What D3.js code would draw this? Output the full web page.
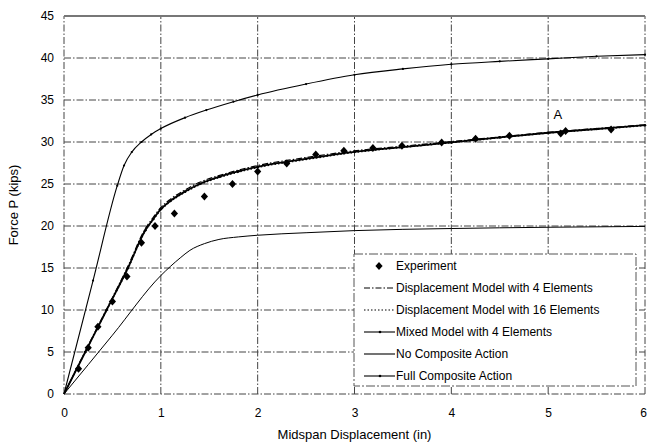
<!DOCTYPE html>
<html><head><meta charset="utf-8">
<script src="https://cdn.jsdelivr.net/npm/d3@7"></script>
<style>body{margin:0;background:#fff}svg{display:block;font-family:"Liberation Sans",Arial,sans-serif}</style>
</head><body><svg id="c" width="647" height="443"></svg>
<script>
// ---- data ----
const xTicks = [0,1,2,3,4,5,6];
const yTicks = [0,5,10,15,20,25,30,35,40,45];
const expX = [0.15,0.25,0.35,0.50,0.65,0.80,0.94,1.14,1.45,1.74,2.00,2.30,2.60,2.89,3.19,3.49,3.90,4.25,4.60,5.13,5.18,5.65];
const expY = [3.0,5.5,8.0,11.0,14.0,18.0,20.0,21.5,23.5,25.0,26.5,27.45,28.5,28.95,29.3,29.55,29.95,30.4,30.75,31.0,31.3,31.5];
const mixX = [0,0.22,0.44,0.66,0.84,0.92,1.0,1.1,1.25,1.4,1.6,1.8,2.0,2.5,3.0,3.5,4.0,4.5,5.0,5.5,6.0];
const mixY = [0,5,10,15,19.5,20.8,22.0,23.0,24.1,25.0,25.85,26.5,27.05,28.0,28.83,29.4,29.95,30.55,31.1,31.55,32.0];
const d4Y  = [0,5.1,10.1,15.2,19.7,21.0,22.2,23.2,24.3,25.2,26.0,26.65,27.2,28.15,28.95,29.5,30.05,30.6,31.15,31.6,32.05];
const d16Y = [0,5,9.95,14.9,19.4,20.7,21.9,22.9,24.0,24.9,25.75,26.4,26.95,27.9,28.75,29.35,29.9,30.5,31.05,31.5,31.95];
const fullX = [0,0.3,0.55,0.62,0.7,0.8,0.9,1.0,1.25,1.47,1.75,2.0,2.5,3.0,3.5,4.0,4.5,5.0,5.5,6.0];
const fullY = [0,13.5,24.8,27.2,28.8,30.0,30.9,31.6,32.9,33.8,34.8,35.6,36.9,38.0,38.7,39.25,39.6,39.9,40.2,40.4];
const noneX = [0,0.5,1.0,1.1,1.2,1.3,1.45,1.6,1.8,2.0,2.5,3.0,4.0,5.0,6.0];
const noneY = [0,7.0,14.1,15.2,16.2,17.1,17.9,18.4,18.7,18.9,19.2,19.45,19.7,19.85,19.95];
const legendLabels = ["Experiment","Displacement Model with 4 Elements","Displacement Model with 16 Elements","Mixed Model with 4 Elements","No Composite Action","Full Composite Action"];

// ---- layout ----
const svg = d3.select("#c");
const L=64, R=645, T=16, B=394;
const x = d3.scaleLinear().domain([0,6]).range([L,R]);
const y = d3.scaleLinear().domain([0,45]).range([B,T]);
const dashDot = "7,2,1.5,2";

// grid
svg.append("g").selectAll("line").data(xTicks).join("line")
  .attr("x1",d=>x(d)).attr("x2",d=>x(d)).attr("y1",y(0)).attr("y2",y(45))
  .attr("stroke","#444").attr("stroke-width",1).attr("stroke-dasharray",dashDot);
svg.append("g").selectAll("line").data(yTicks.filter(d=>d<45)).join("line")
  .attr("x1",x(0)).attr("x2",x(6)).attr("y1",d=>y(d)).attr("y2",d=>y(d))
  .attr("stroke","#444").attr("stroke-width",1).attr("stroke-dasharray",dashDot);
svg.append("line").attr("x1",x(0)).attr("x2",x(6)).attr("y1",y(45)).attr("y2",y(45))
  .attr("stroke","#777").attr("stroke-width",2);

// axes
const xa = svg.append("g").attr("transform",`translate(0,${B})`)
  .call(d3.axisBottom(x).tickValues(xTicks).tickSize(0).tickPadding(14).tickFormat(d3.format("d")));
const ya = svg.append("g").attr("transform",`translate(${L},0)`)
  .call(d3.axisLeft(y).tickValues(yTicks).tickSize(0).tickPadding(10).tickFormat(d3.format("d")));
[xa,ya].forEach(a=>{a.select(".domain").remove();a.selectAll("text").attr("font-size","12px").attr("fill","#000").attr("font-family","Liberation Sans, Arial, sans-serif");});
xa.selectAll(".tick").filter(d=>d===6).select("text").attr("dx","-2");

svg.append("text").attr("x",(L+R)/2).attr("y",439).attr("text-anchor","middle")
  .attr("font-size","13px").text("Midspan Displacement (in)");
svg.append("text").attr("transform",`translate(18,${(T+B)/2}) rotate(-90)`).attr("text-anchor","middle")
  .attr("font-size","13px").text("Force P (kips)");

// curves
const line = d3.line().x(d=>x(d[0])).y(d=>y(d[1])).curve(d3.curveMonotoneX);
const zip = (a,b)=>a.map((v,i)=>[v,b[i]]);
const g = svg.append("g").attr("fill","none").attr("stroke","#000");
g.append("path").attr("d",line(zip(noneX,noneY))).attr("stroke-width",1);
g.append("path").attr("d",line(zip(fullX,fullY))).attr("stroke-width",1.1);
g.append("path").attr("d",line(zip(mixX,d4Y))).attr("stroke-width",1.2).attr("stroke-dasharray","6,2,1.5,2");
g.append("path").attr("d",line(zip(mixX,d16Y))).attr("stroke-width",1.2).attr("stroke-dasharray","1.5,2");
g.append("path").attr("d",line(zip(mixX,mixY))).attr("stroke-width",1.8);
// small markers
const mk = svg.append("g").attr("fill","#000");
mk.selectAll("circle.f").data(zip(fullX,fullY).slice(1)).join("circle").attr("class","f")
  .attr("cx",d=>x(d[0])).attr("cy",d=>y(d[1])).attr("r",1.1);
mk.selectAll("circle.m").data(zip(mixX,mixY).slice(1)).join("circle").attr("class","m")
  .attr("cx",d=>x(d[0])).attr("cy",d=>y(d[1])).attr("r",1.3);

// experiment diamonds
const diamond = (cx,cy,s)=>`M${cx},${cy-s}L${cx+s*0.9},${cy}L${cx},${cy+s}L${cx-s*0.9},${cy}Z`;
svg.append("g").selectAll("path").data(zip(expX,expY)).join("path")
  .attr("d",d=>diamond(x(d[0]),y(d[1]),4)).attr("fill","#000");

svg.append("text").attr("x",x(5.1)).attr("y",y(33.3)+5).attr("text-anchor","middle")
  .attr("font-size","13px").text("A");

// legend
const lg = svg.append("g");
lg.append("rect").attr("x",354).attr("y",254).attr("width",282).attr("height",132)
  .attr("fill","#fff").attr("stroke","#555").attr("stroke-width",1).attr("stroke-dasharray","9,2,2,2");
const styles = [null,"6,2,1.5,2","1.5,2","","",""];
legendLabels.forEach((t,i)=>{
  const cy = 266 + i*22;
  if(i===0){
    lg.append("path").attr("d",diamond(379,cy,4)).attr("fill","#000");
  } else {
    lg.append("line").attr("x1",364).attr("x2",395).attr("y1",cy).attr("y2",cy)
      .attr("stroke","#000").attr("stroke-width",1.1).attr("stroke-dasharray",styles[i]||null);
    if(i===3||i===5) lg.append("circle").attr("cx",380).attr("cy",cy).attr("r",1.3).attr("fill","#000");
  }
  lg.append("text").attr("x",396).attr("y",cy+4.3).attr("font-size","12px").text(t);
});
</script></body></html>
